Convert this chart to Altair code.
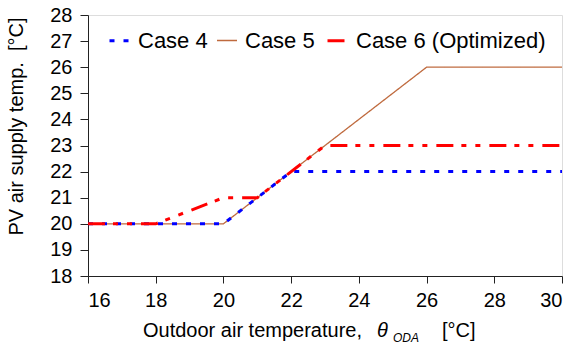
import altair as alt
import pandas as pd

# ---- data ----
series = ["Case 4", "Case 5", "Case 6 (Optimized)"]
case4_x = [16, 18, 20, 22, 30]
case4_y = [20, 20, 20, 22, 22]
case5_x = [16, 20, 26, 30]
case5_y = [20, 20, 26, 26]
case6_x = [16, 18, 20, 21, 23, 30]
case6_y = [20, 20, 21, 21, 23, 23]
x_ticks = [16, 18, 20, 22, 24, 26, 28, 30]
y_ticks = [18, 19, 20, 21, 22, 23, 24, 25, 26, 27, 28]

rows = []
for name, xs, ys in [(series[0], case4_x, case4_y),
                     (series[1], case5_x, case5_y),
                     (series[2], case6_x, case6_y)]:
    for i, (xv, yv) in enumerate(zip(xs, ys)):
        rows.append({"case": name, "x": xv, "y": yv, "o": i})
df = pd.DataFrame(rows)

FONT = "Liberation Sans"

color_scale = alt.Scale(domain=series, range=["#0000FF", "#BF6A3E", "#FF0000"])
dash_scale = alt.Scale(domain=series, range=[[5, 9], [1, 0], [17, 8, 5, 9, 5, 9]])
width_scale = alt.Scale(type="ordinal", domain=series, range=[3, 1.3, 3])

legend = alt.Legend(
    orient="none", legendX=20, legendY=14, direction="horizontal", title=None,
    symbolType="stroke", symbolSize=400, labelFontSize=22, labelFont=FONT,
    labelOffset=7, columnPadding=6, padding=0, labelColor="#000000",
    labelLimit=400,
)

def line_layer(name):
    return alt.Chart(df).transform_filter(alt.datum.case == name).mark_line(
        clip=False
    ).encode(
        x=alt.X("x:Q", scale=alt.Scale(domain=[16, 30], nice=False, zero=False),
                axis=alt.Axis(values=x_ticks, title=None, grid=False,
                              labelFontSize=20, labelFont=FONT, labelColor="#000000",
                              tickSize=7, labelPadding=7, domainColor="#222222",
                              tickColor="#222222")),
        y=alt.Y("y:Q", scale=alt.Scale(domain=[18, 28], nice=False, zero=False),
                axis=alt.Axis(values=y_ticks, title="PV air supply temp.\u00a0\u00a0[°C]",
                              grid=False, labelFontSize=20, labelFont=FONT,
                              labelColor="#000000", tickSize=8, labelPadding=8,
                              domainColor="#222222", tickColor="#222222",
                              titleFont=FONT, titleFontSize=20, titleFontWeight="normal",
                              titleColor="#000000", titleX=-72, titleY=111,
                              titleAngle=270, titleAlign="center",
                              titleBaseline="middle")),
        color=alt.Color("case:N", scale=color_scale, legend=legend),
        strokeDash=alt.StrokeDash("case:N", scale=dash_scale, legend=legend),
        strokeWidth=alt.StrokeWidth("case:N", scale=width_scale, legend=legend),
        order="o:Q",
    )

one = alt.Data(values=[{}])
t_main = alt.Chart(one).mark_text(
    text="Outdoor air temperature,", align="left", baseline="alphabetic",
    fontSize=20, font=FONT, color="#000000"
).encode(x=alt.value(55), y=alt.value(322))
t_theta = alt.Chart(one).mark_text(
    text="θ", align="left", baseline="alphabetic", fontSize=20, font=FONT,
    fontStyle="italic", color="#000000"
).encode(x=alt.value(289), y=alt.value(322))
t_sub = alt.Chart(one).mark_text(
    text="ODA", align="left", baseline="alphabetic", fontSize=12, font=FONT,
    fontStyle="italic", color="#000000"
).encode(x=alt.value(305), y=alt.value(327))
t_unit = alt.Chart(one).mark_text(
    text="[°C]", align="left", baseline="alphabetic", fontSize=20, font=FONT,
    color="#000000"
).encode(x=alt.value(354), y=alt.value(322))

chart = alt.layer(
    line_layer(series[1]), line_layer(series[0]), line_layer(series[2]),
    t_main, t_theta, t_sub, t_unit,
).properties(
    width=474, height=261,
    autosize=alt.AutoSizeParams(type="none"),
    padding={"left": 88, "top": 15, "right": 13, "bottom": 71},
).configure_view(stroke="#222222", strokeWidth=1).configure(background="white")

chart.save("out.html", embed_options={"renderer": "svg", "actions": False})
